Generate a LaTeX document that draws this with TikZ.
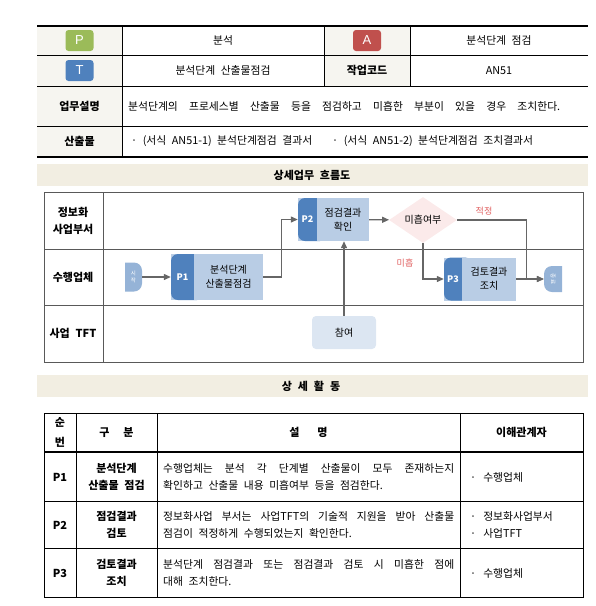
\documentclass[tikz,border=0pt]{standalone}
\usepackage{fontspec}
\usepackage{graphicx}
\setmainfont{Noto Sans CJK KR}[WordSpace=2.3]
\newfontfamily\iconfont{Liberation Sans}
\usetikzlibrary{arrows.meta,shapes.geometric,positioning,calc}

\definecolor{labelfill}{HTML}{F6F5F0}
\definecolor{bandfill}{HTML}{F2EEE2}
\definecolor{iconP}{HTML}{9BBB59}
\definecolor{iconT}{HTML}{4F81BD}
\definecolor{iconA}{HTML}{C0504D}
\definecolor{tabblue}{HTML}{4F81BD}
\definecolor{bodyblue}{HTML}{B9CDE5}
\definecolor{termblue}{HTML}{95B3D7}
\definecolor{joinblue}{HTML}{DCE6F2}
\definecolor{diafill}{HTML}{FBEAEA}
\definecolor{flowgray}{HTML}{666666}
\definecolor{notered}{HTML}{E06060}
\definecolor{lanegray}{HTML}{595959}

\tikzset{
  cellbold/.style={font=\bfseries\fontsize{11}{14}\selectfont, align=center, inner sep=0pt},
  celltext/.style={font=\fontsize{10.8}{14}\selectfont, align=center, inner sep=0pt},
  icon/.style={fill=#1, rounded corners=3pt, minimum width=28pt, minimum height=21pt,
    inner sep=0pt, text=white, font=\iconfont\fontsize{13}{13}\selectfont},
  band/.style={fill=bandfill, draw=none},
  lane/.style={draw=lanegray, line width=0.8pt},
  lanelabel/.style={font=\bfseries\fontsize{11}{17}\selectfont, align=center},
  steplabel/.style={text=white, font=\bfseries\fontsize{9}{9}\selectfont, inner sep=0pt},
  steptext/.style={align=center, font=\fontsize{10}{14}\selectfont, inner sep=0pt},
  stepbox/.style n args={3}{fill=bodyblue, minimum height=43pt, inner sep=0pt,
    path picture={
      \fill[tabblue, rounded corners=7pt] (path picture bounding box.north west)
        rectangle ([xshift=#1+10pt]path picture bounding box.south west);
      \fill[bodyblue] ([xshift=#1]path picture bounding box.north west)
        rectangle (path picture bounding box.south east);
      \node[steplabel] at ([xshift=#1/2]path picture bounding box.west) {#2};
      \node[steptext] at ([xshift=#1/2]path picture bounding box.center) {#3};
    }},
  termstart/.style={fill=white, minimum width=17pt, minimum height=29pt, inner sep=0pt,
    text=white, align=center, font=\fontsize{5.5}{6.5}\selectfont,
    path picture={\fill[termblue, rounded corners=8pt]
      ([xshift=-12pt]path picture bounding box.north west)
      rectangle (path picture bounding box.south east);}},
  termend/.style={fill=white, minimum width=18pt, minimum height=26pt, inner sep=0pt,
    text=white, font=\fontsize{5.5}{6.5}\selectfont,
    path picture={\fill[termblue, rounded corners=8pt]
      (path picture bounding box.north west)
      rectangle ([xshift=12pt]path picture bounding box.south east);}},
  decision/.style={diamond, fill=diafill, minimum width=68pt, minimum height=40pt,
    inner sep=0pt, font=\fontsize{10}{12}\selectfont},
  joinbox/.style={fill=joinblue, rounded corners=4pt, minimum width=64pt,
    minimum height=33pt, font=\fontsize{10}{12}\selectfont},
  flow/.style={draw=flowgray, line width=1.3pt, -{Triangle[length=7pt,width=6pt]}},
  note/.style={text=notered, font=\fontsize{9}{9}\selectfont, inner sep=0pt}
}

\begin{document}
\begin{tikzpicture}[x=1pt,y=-1pt]
  \useasboundingbox (0,0) rectangle (596,606);

  % draw the top table
  \fill[labelfill] (37,26) rectangle (122,157);
  \fill[labelfill] (324,26) rectangle (410,86);
  \draw[line width=1.2pt] (37,26) -- (588,26);
  \draw[line width=1.2pt] (37,157) -- (588,157);
  \foreach \y in {55,86,126}
    \draw[line width=0.7pt] (37,\y) -- (588,\y);
  \draw[line width=0.7pt] (122,26) -- (122,157);
  \foreach \x in {324,410}
    \draw[line width=0.7pt] (\x,26) -- (\x,86);

  \node[icon=iconP] (iconp) at (79.5,40.5) {P};
  \node[icon=iconT] (icont) at (79.5,70.5) {T};
  \node[icon=iconA] (icona) at (367,40.5) {A};
  \node[celltext] (phase) at (223,40.5) {분석};
  \node[celltext] (activity) at (499,40.5) {분석단계 점검};
  \node[celltext] (task) at (223,70.5) {분석단계 산출물점검};
  \node[cellbold] (codehead) at (367,70.5) {작업코드};
  \node[celltext] (code) at (499,70.5) {AN51};
  \node[cellbold] (deschead) at (79.5,106) {업무설명};
  \node[celltext, anchor=west] (desc) at (128,106)
    {\makebox[432pt][s]{분석단계의 프로세스별 산출물 등을 점검하고 미흡한 부분이 있을 경우 조치한다.}};
  \node[cellbold] (outhead) at (79.5,141.5) {산출물};
  \node[celltext, anchor=west] (outa) at (131,141.5) {· (서식 AN51-1) 분석단계점검 결과서};
  \node[celltext, anchor=west] (outb) at (332,141.5) {· (서식 AN51-2) 분석단계점검 조치결과서};

  % draw the flow chart
  \fill[band] (37,164) rectangle (588,186);
  \node[cellbold] (flowhead) at (312,175) {상세업무 흐름도};

  \draw[lane] (44,192) rectangle (583,362);
  \foreach \y in {249,305}
    \draw[lane] (44,\y) -- (583,\y);
  \draw[lane] (103,192) -- (103,362);
  \foreach \y/\name/\txt in {220.5/laneinfo/정보화\\사업부서, 277/lanevendor/수행업체, 333.5/lanetft/사업 TFT}
    \node[lanelabel] (\name) at (73,\y) {\txt};

  \node[termstart] (start) at (133.5,277) {시\\작};
  \node[stepbox={23pt}{P1}{분석단계\\산출물점검}, minimum width=92pt, minimum height=46pt] (p1) at (217,277) {};
  \node[stepbox={19pt}{P2}{점검결과\\확인}, minimum width=71pt] (p2) at (333.5,219.5) {};
  \node[decision] (check) at (423,220) {미흡여부};
  \node[stepbox={18pt}{P3}{검토결과\\조치}, minimum width=72pt] (p3) at (480,279) {};
  \node[termend] (fin) at (553,279) {\rotatebox{-90}{종료}};
  \node[joinbox] (join) at (344,332.5) {참여};
  \coordinate (merge) at ([xshift=10pt]p3.east);

  % draw the connectors
  \draw[flow] (start) -- (p1);
  \draw[flow] (p1.east) -- ++(18,0) |- (p2.west);
  \draw[flow] (p2) -- (check);
  \draw[flow] (check.east) -| (merge) -- (fin.west);
  \draw[flow] (check.south) |- (p3.west);
  \draw[flow] (p3.east) -- (fin.west);
  \draw[flow] (join.north) -- (join.north |- p2.south);
  \node[note] (ok) at (484,211) {적정};
  \node[note] (short) at (405,263) {미흡};

  % draw the activity table
  \fill[band] (37,375) rectangle (588,397);
  \node[cellbold] (acthead) at (311,386) {상\hspace{6pt}세\hspace{6pt}활\hspace{6pt}동};

  \draw[line width=0.8pt] (44,413) rectangle (583,597);
  \foreach \x in {76,157,460}
    \draw[line width=0.8pt] (\x,413) -- (\x,597);
  \draw[line width=2pt] (44,452) -- (583,452);
  \foreach \y in {501,548}
    \draw[line width=0.8pt] (44,\y) -- (583,\y);

  \node[cellbold, font=\bfseries\fontsize{11}{20}\selectfont] (colno) at (60,432.5) {순\\번};
  \node[cellbold] (colkind) at (116.5,432.5) {구\hspace{14pt}분};
  \node[cellbold] (coldesc) at (308.5,432.5) {설\hspace{18pt}명};
  \node[cellbold] (colwho) at (521.5,432.5) {이해관계자};

  \foreach \y/\id/\kind/\lineA/\lineB/\who in {
      477/P1/분석단계\\산출물 점검/수행업체는 분석 각 단계별 산출물이 모두 존재하는지/확인하고 산출물 내용 미흡여부 등을 점검한다./·\hspace{7pt}수행업체,
      525/P2/점검결과\\검토/정보화사업 부서는 사업TFT의 기술적 지원을 받아 산출물/점검이 적정하게 수행되었는지 확인한다./·\hspace{7pt}정보화사업부서\\·\hspace{7pt}사업TFT,
      573/P3/검토결과\\조치/분석단계 점검결과 또는 점검결과 검토 시 미흡한 점에/대해 조치한다./·\hspace{7pt}수행업체}
  {
    \node[cellbold, font=\bfseries\fontsize{11}{17}\selectfont] (no\id) at (60,\y) {\id};
    \node[cellbold, font=\bfseries\fontsize{11}{17}\selectfont] (kind\id) at (116.5,\y) {\kind};
    \node[celltext, align=left, font=\fontsize{10.8}{17}\selectfont, anchor=west]
      (desc\id) at (163,\y) {\makebox[291pt][s]{\lineA}\\\lineB};
    \node[celltext, align=left, font=\fontsize{10.8}{17}\selectfont, anchor=west] (who\id) at (470,\y) {\who};
  }
\end{tikzpicture}
\end{document}
